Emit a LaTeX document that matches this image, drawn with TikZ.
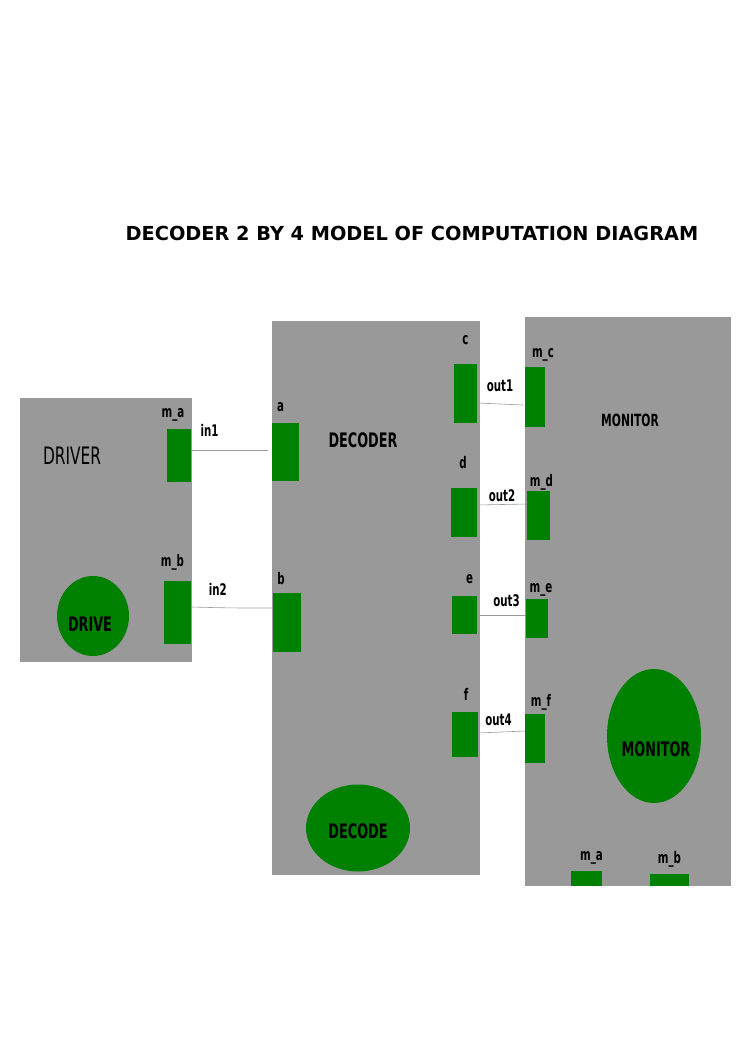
\documentclass[tikz,border=0pt]{standalone}
\usepackage{fontspec}
\usetikzlibrary{positioning,shapes.geometric}
\newfontfamily\diagfont{DejaVu Sans}[FakeStretch=0.64]
\newfontfamily\titlefont{DejaVu Sans}
\definecolor{blockgray}{HTML}{999999}
\definecolor{portgreen}{HTML}{008000}
\definecolor{wiregray}{HTML}{9A9A9A}

\begin{document}
\begin{tikzpicture}[
        x=1pt, y=-1pt,
        block/.style={rectangle, fill=blockgray, draw=none, anchor=north west, inner sep=0pt},
        port/.style={rectangle, fill=portgreen, draw=none, inner sep=0pt},
        proc/.style={ellipse, fill=portgreen, draw=none, inner sep=0pt},
        bigtxt/.style={inner sep=0pt, font=\diagfont\bfseries\fontsize{20}{20}\selectfont},
        lbl/.style={inner sep=0pt, font=\diagfont\bfseries\fontsize{16}{16}\selectfont},
        wire/.style={draw=wiregray, line width=0.6pt}
    ]
        \useasboundingbox (0,0) rectangle (745,1053);

        \node[font=\titlefont\bfseries\fontsize{19.3}{20}\selectfont, inner sep=0pt] (title) at (412,233) {DECODER 2 BY 4 MODEL OF COMPUTATION DIAGRAM};

        % blocks
        \node[block, minimum width=172, minimum height=264] (driver) at (20,398) {};
        \node[block, minimum width=208, minimum height=554] (decoder) at (272,321) {};
        \node[block, minimum width=206, minimum height=569] (monitor) at (525,317) {};

        \node[inner sep=0pt, font=\diagfont\fontsize{24}{24}\selectfont] (drivertxt) at (72,456) {DRIVER};
        \node[bigtxt] (decodertxt) at (363,440) {DECODER};
        \node[lbl, font=\diagfont\bfseries\fontsize{16.8}{17}\selectfont] (monitortxt) at (630,420) {MONITOR};

        % processes
        \node[proc, minimum width=72, minimum height=80, label={[bigtxt, yshift=-8pt, xshift=-3pt]center:DRIVE}] (drive) at (93,616) {};
        \node[proc, minimum width=104, minimum height=87, label={[bigtxt, yshift=-3pt]center:DECODE}] (decode) at (358,828) {};
        \node[proc, minimum width=94, minimum height=134, label={[bigtxt, yshift=-13pt, xshift=2pt]center:MONITOR}] (monproc) at (654,736) {};

        % driver ports
        \node[port, minimum width=24, minimum height=53] (ma) at (179,455.5) {};
        \node[port, minimum width=27, minimum height=63] (mb) at (177.5,612.5) {};
        \node[lbl, above=7pt of ma, xshift=-6pt] {m\_a};
        \node[lbl, above=10pt of mb, xshift=-5pt] {m\_b};

        % decoder ports
        \node[port, minimum width=27, minimum height=58] (a) at (285.5,452) {};
        \node[port, minimum width=28, minimum height=59] (b) at (287,622.5) {};
        \node[port, minimum width=23, minimum height=59] (c) at (465.5,393.5) {};
        \node[port, minimum width=26, minimum height=49] (d) at (464,512.5) {};
        \node[port, minimum width=25, minimum height=38] (e) at (464.5,615) {};
        \node[port, minimum width=26, minimum height=45] (f) at (465,734.5) {};
        \node[lbl, above=11pt of a, xshift=-5pt] {a};
        \node[lbl, above=8pt of b, xshift=-6pt] {b};
        \node[lbl, above=19pt of c] {c};
        \node[lbl, above=19pt of d, xshift=-1pt] {d};
        \node[lbl, above=12pt of e, xshift=5pt] {e};
        \node[lbl, above=11pt of f, xshift=1pt] {f};

        % monitor ports
        \node[port, minimum width=20, minimum height=60] (mc) at (535,397) {};
        \node[port, minimum width=23, minimum height=49] (md) at (538.5,515.5) {};
        \node[port, minimum width=22, minimum height=39] (me) at (537,618.5) {};
        \node[port, minimum width=20, minimum height=49] (mf) at (535,738.5) {};
        \node[port, minimum width=31, minimum height=15] (mma) at (586.5,878.5) {};
        \node[port, minimum width=39, minimum height=12] (mmb) at (669.5,880) {};
        \node[lbl, above=5pt of mc, xshift=8pt] {m\_c};
        \node[lbl, above=0pt of md, xshift=3pt] {m\_d};
        \node[lbl, above=2pt of me, xshift=4pt] {m\_e};
        \node[lbl, above=3pt of mf, xshift=6pt] {m\_f};
        \node[lbl, above=6pt of mma, xshift=5pt] {m\_a};
        \node[lbl, above=6pt of mmb] {m\_b};

        % wires
        \draw[wire] (ma.east |- 0,450) -- node[lbl, above=13pt, xshift=-20pt] {in1} ([xshift=-4pt]a.west |- 0,450);
        \draw[wire] (mb.east |- 0,607) .. controls (230,608) .. (b.west |- 0,608) node[lbl, pos=0.3, above=12pt] {in2};
        \draw[wire] (c.east |- 0,403) -- node[lbl, above=12pt] {out1} ([xshift=-2pt]mc.west |- 0,405);
        \draw[wire] (d.east |- 0,505) -- node[lbl, above=2pt] {out2} (md.west |- 0,504);
        \draw[wire] (e.east) -- node[lbl, above=8pt, xshift=5pt] {out3} (me.west |- e.east);
        \draw[wire] (f.east |- 0,733) -- node[lbl, above=6pt, xshift=-3pt] {out4} (mf.west |- 0,731);
    \end{tikzpicture}
\end{document}
